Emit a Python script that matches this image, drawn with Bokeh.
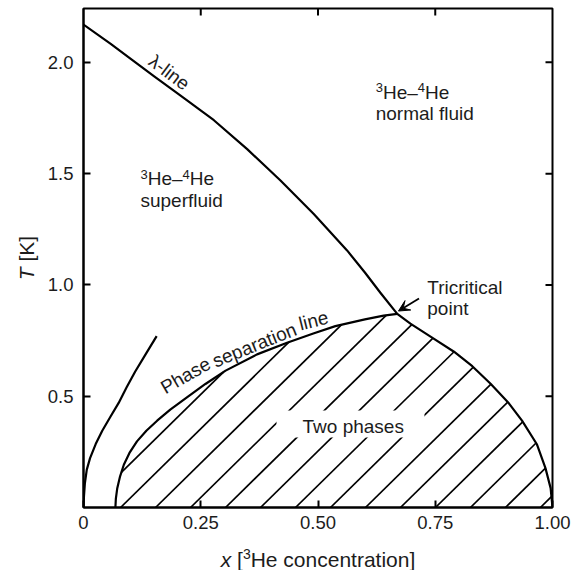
import math
import numpy as np
from bokeh.plotting import figure
from bokeh.layouts import row, column
from bokeh.models import Label, FixedTicker, Arrow, VeeHead, BoxAnnotation, Range1d
from bokeh.embed import file_html
from bokeh.resources import INLINE

# ---------------- data ----------------
x_ticks = [0.0, 0.25, 0.50, 0.75, 1.00]
x_tick_labels = ["0", "0.25", "0.50", "0.75", "1.00"]
y_ticks = [0.5, 1.0, 1.5, 2.0]
y_tick_labels = ["0.5", "1.0", "1.5", "2.0"]

# lambda line: from pure 4He to the tricritical point
lambda_x = [0.0, 0.058, 0.10, 0.15, 0.207, 0.278, 0.349, 0.42, 0.491, 0.562, 0.60, 0.633, 0.669]
lambda_T = [2.170, 2.083, 2.017, 1.938, 1.851, 1.740, 1.610, 1.469, 1.319, 1.155, 1.056, 0.965, 0.870]

# phase separation line, 4He-rich (left) branch up to the tricritical point
sep_left_x = [0.068, 0.069, 0.072, 0.078, 0.086, 0.098, 0.114, 0.134, 0.157, 0.185, 0.214,
              0.260, 0.303, 0.370, 0.434, 0.490, 0.537, 0.600, 0.640, 0.669]
sep_left_T = [0.0, 0.04, 0.087, 0.14, 0.192, 0.245, 0.297, 0.345, 0.39, 0.44, 0.485,
              0.555, 0.615, 0.688, 0.740, 0.782, 0.815, 0.845, 0.862, 0.870]

# phase separation line, 3He-rich (right) branch from the tricritical point
sep_right_x = [0.669, 0.697, 0.740, 0.790, 0.829, 0.868, 0.907, 0.935, 0.967, 0.985, 0.996, 1.0]
sep_right_T = [0.870, 0.826, 0.768, 0.700, 0.635, 0.556, 0.468, 0.390, 0.283, 0.177, 0.087, 0.0]

# separate curve at low concentration
low_x = [0.0, 0.001, 0.003, 0.007, 0.014, 0.026, 0.040, 0.058, 0.075, 0.092, 0.110, 0.133, 0.156]
low_T = [0.0, 0.05, 0.11, 0.17, 0.222, 0.285, 0.345, 0.41, 0.47, 0.54, 0.61, 0.69, 0.77]

tricritical = (0.669, 0.870)

# ---------------- layout geometry ----------------
FONT = "Liberation Sans"
TXT = "#1c1c1c"
LEFT_W = 40          # strip holding the rotated y title
MAIN_W = 532
MAIN_H = 540
BOTTOM_H = 30        # strip holding the x title
B_LEFT, B_RIGHT, B_TOP, B_BOTTOM = 43, 20, 8, 33
X_RANGE = (0.0, 1.0)
Y_RANGE = (0.0, 2.242)
MID = 0.35           # glyph middle above the baseline, in em

p = figure(width=MAIN_W, height=MAIN_H, x_range=Range1d(*X_RANGE), y_range=Range1d(*Y_RANGE),
           output_backend="svg", toolbar_location=None,
           min_border_left=B_LEFT, min_border_right=B_RIGHT,
           min_border_top=B_TOP, min_border_bottom=B_BOTTOM)
p.grid.visible = False
p.outline_line_color = "black"
p.outline_line_width = 2
p.background_fill_color = "white"
p.border_fill_color = "white"

frame_w = MAIN_W - B_LEFT - B_RIGHT
frame_h = MAIN_H - B_TOP - B_BOTTOM
ppu_x = frame_w / (X_RANGE[1] - X_RANGE[0])
ppu_y = frame_h / (Y_RANGE[1] - Y_RANGE[0])
TICK = 7

def style_axis(ax, ticks, labels, standoff):
    ax.ticker = FixedTicker(ticks=ticks)
    ax.major_label_overrides = {t: l for t, l in zip(ticks, labels)}
    ax.major_tick_in = TICK
    ax.major_tick_out = 0
    ax.minor_tick_line_color = None
    ax.major_tick_line_color = "black"
    ax.major_tick_line_width = 2
    ax.axis_line_color = "black"
    ax.axis_line_width = 2
    ax.major_label_text_font = FONT
    ax.major_label_text_color = TXT
    ax.major_label_text_font_size = "18.5px"
    ax.major_label_standoff = standoff

style_axis(p.xaxis[0], x_ticks, x_tick_labels, 8)
style_axis(p.yaxis[0], y_ticks, y_tick_labels, 10)

# inward ticks on the top and right edges of the frame (mirroring the axes)
top_t = [t for t in x_ticks if X_RANGE[0] < t < X_RANGE[1]]
right_t = [t for t in y_ticks if Y_RANGE[0] < t < Y_RANGE[1]]
p.segment(x0=top_t, y0=[Y_RANGE[1]] * len(top_t), x1=top_t,
          y1=[Y_RANGE[1] - TICK / ppu_y] * len(top_t), line_color="black", line_width=2)
p.segment(x0=[X_RANGE[1]] * len(right_t), y0=right_t, x1=[X_RANGE[1] - TICK / ppu_x] * len(right_t),
          y1=right_t, line_color="black", line_width=2)

# ---------------- hatching of the two-phase region ----------------
HATCH_SLOPE = 2.07     # dT/dx of the hatch lines
HATCH_START = 0.0044
HATCH_STEP = 0.0746

def upper_boundary(x):
    left = np.interp(x, sep_left_x, sep_left_T, left=-1.0, right=-1.0)
    right = np.interp(x, sep_right_x, sep_right_T, left=-1.0, right=-1.0)
    return np.where(x <= tricritical[0], left, right)

xs = np.linspace(0.0, 1.0, 40001)
U = upper_boundary(xs)
hx, hy = [], []
x0 = HATCH_START
while x0 < 1.0:
    T = HATCH_SLOPE * (xs - x0)
    mask = (T >= 0) & (T <= U)
    idx = np.where(mask)[0]
    if len(idx) > 1:
        a, b = idx[0], idx[-1]
        hx.append([xs[a], xs[b]])
        hy.append([max(T[a], 0.0), T[b]])
    x0 += HATCH_STEP
p.multi_line(hx, hy, line_color="black", line_width=1.7)

# ---------------- curves ----------------
p.line(lambda_x + sep_right_x[1:], lambda_T + sep_right_T[1:], line_color="black",
       line_width=2.2, line_join="round")
p.line(sep_left_x, sep_left_T, line_color="black", line_width=2.2, line_join="round")
p.line(low_x, low_T, line_color="black", line_width=2.2, line_join="round")

# white gap in the hatching around the "Two phases" label
p.add_layout(BoxAnnotation(left=0.4115, right=0.727, bottom=0.3145, top=0.4358,
                           fill_color="white", fill_alpha=1.0, line_color=None))

# ---------------- texts ----------------
W = {' ': 278, '[': 278, ']': 278, 'H': 722, 'e': 556, '–': 556, 'c': 500, 'o': 556,
     'n': 556, 't': 278, 'r': 333, 'a': 556, 'i': 222, 'x': 500, 'T': 611, 'K': 667,
     '3': 556, '4': 556}

def add_rich(fig, x, y, pieces, size, sup_size, sup_rise, angle=0.0, align="left"):
    """Text pieces laid side by side; (x, y) is the baseline start (or centre)."""
    widths = []
    for t, st in pieces:
        sz = sup_size if st == "s" else size
        widths.append(sum(W.get(c, 556) for c in t) * sz / 1000.0)
    total = sum(widths)
    cum = -total / 2.0 if align == "center" else 0.0
    ca, sa = math.cos(angle), math.sin(angle)
    for (t, st), w in zip(pieces, widths):
        if t.strip():
            sz = sup_size if st == "s" else size
            up = (sup_rise if st == "s" else 0.0) + MID * sz
            fig.add_layout(Label(x=x, y=y, x_offset=cum * ca - up * sa,
                                 y_offset=cum * sa + up * ca, text=t,
                                 angle=angle, text_font=FONT, text_font_size=f"{sz}px",
                                 text_font_style="italic" if st == "i" else "normal",
                                 text_color=TXT, text_align="left",
                                 text_baseline="middle"))
        cum += w

def add_text(x, y, text, size=19, angle_deg=0.0, align="left", on_baseline=True):
    p.add_layout(Label(x=x, y=y, y_offset=MID * size if on_baseline else 0.0, text=text,
                       angle=math.radians(angle_deg),
                       text_font=FONT, text_font_size=f"{size}px", text_color=TXT,
                       text_align=align, text_baseline="middle"))

he_pieces = [("3", "s"), ("He–", "n"), ("4", "s"), ("He", "n")]
add_rich(p, 0.623, 1.836, he_pieces, 19, 13, 7)
add_text(0.623, 1.739, "normal fluid")
add_rich(p, 0.1215, 1.4465, he_pieces, 19, 13, 7)
add_text(0.1215, 1.348, "superfluid")
add_text(0.733, 0.960, "Tricritical")
add_text(0.733, 0.8625, "point")
add_text(0.467, 0.3324, "Two phases")

add_text(0.1827, 1.955, "λ-line", angle_deg=-37, align="center", on_baseline=False)
add_text(0.2175, 0.593, "Phase", angle_deg=30, align="center", on_baseline=False)
add_text(0.3645, 0.730, "separation", angle_deg=22, align="center", on_baseline=False)
add_text(0.4904, 0.840, "line", angle_deg=14, align="center", on_baseline=False)

p.add_layout(Arrow(end=VeeHead(size=11, fill_color="black", line_color="black"),
                   x_start=0.7154, y_start=0.939, x_end=0.6716, y_end=0.8827,
                   line_color="black", line_width=1.8))

# ---------------- axis titles (strips sharing the main ranges) ----------------
yl = figure(width=LEFT_W, height=MAIN_H, x_range=Range1d(0, LEFT_W), y_range=p.y_range,
            x_axis_type=None, y_axis_type=None, output_backend="svg", toolbar_location=None,
            min_border_left=0, min_border_right=0, min_border_top=B_TOP,
            min_border_bottom=B_BOTTOM)
yl.outline_line_color = None
add_rich(yl, 33, sum(Y_RANGE) / 2.0, [("T", "i"), (" ", "n"), ("[K]", "n")], 21, 14, 8,
         angle=math.pi / 2, align="center")

xl = figure(width=LEFT_W + MAIN_W, height=BOTTOM_H, x_range=p.x_range,
            y_range=Range1d(0, BOTTOM_H), x_axis_type=None, y_axis_type=None,
            output_backend="svg", toolbar_location=None,
            min_border_left=LEFT_W + B_LEFT, min_border_right=B_RIGHT,
            min_border_top=0, min_border_bottom=0)
xl.outline_line_color = None
add_rich(xl, sum(X_RANGE) / 2.0, 4, [("x", "i"), (" ", "n"), ("[", "n"), ("3", "s"),
                                     ("He concentration]", "n")], 21, 14, 8, align="center")

layout = column(row(yl, p), xl)
open("out.html", "w").write(file_html(layout, INLINE))
